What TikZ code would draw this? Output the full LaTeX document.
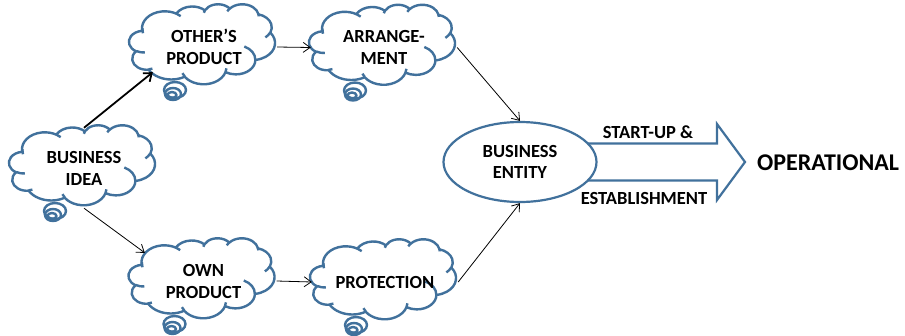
\documentclass[tikz,border=0pt]{standalone}
\usepackage{fontspec}
\setmainfont{Carlito}
\usetikzlibrary{arrows.meta,calc,backgrounds,shapes.geometric}
\definecolor{shapeblue}{HTML}{41719C}

% Cloud outline built from elliptical arcs given by visual angles;
% each visual angle is turned into the ellipse parameter TikZ expects.
\newcommand\cloudarc[5]{%
  \pgfmathsetmacro\cla{atan2(#2*sin(#4),#3*cos(#4))}%
  \pgfmathsetmacro\cls{\cla+360*round((#4-\cla)/360)}%
  \pgfmathsetmacro\clb{atan2(#2*sin(#4+#5),#3*cos(#4+#5))}%
  \pgfmathsetmacro\cle{\clb+360*round((#4+#5-\clb)/360)}%
  \expandafter\xdef\csname #1\endcsname{arc[start angle=\cls,end angle=\cle,x radius=#2,y radius=#3]}%
}
% outer puffs
\cloudarc{cloudA}{67.53}{91.90}{-190.4875}{123.7805}
\cloudarc{cloudB}{53.33}{72.67}{-144.1024}{89.9452}
\cloudarc{cloudC}{43.65}{59.45}{-145.8079}{99.7230}
\cloudarc{cloudD}{48.57}{65.95}{-130.9861}{117.2417}
\cloudarc{cloudE}{53.33}{72.73}{-78.7089}{109.0269}
\cloudarc{cloudF}{67.75}{92.20}{-46.2673}{130.2690}
\cloudarc{cloudG}{57.85}{78.67}{0.6250}{114.0333}
\cloudarc{cloudH}{67.52}{92.15}{22.4516}{115.1726}
\cloudarc{cloudI}{77.20}{105.43}{66.2426}{75.7110}
\cloudarc{cloudJ}{43.60}{59.18}{-274.9421}{146.7356}
\cloudarc{cloudK}{43.45}{59.45}{-246.8285}{152.5189}
% inner hooks
\cloudarc{hookA}{43.45}{59.45}{86.7420}{26.4295}
\cloudarc{hookB}{43.60}{59.18}{73.6105}{11.4475}
\cloudarc{hookC}{67.52}{92.15}{137.6242}{14.0811}
\cloudarc{hookD}{67.52}{92.15}{6.4533}{15.9984}
\cloudarc{hookE}{57.85}{78.67}{-70.2924}{70.9174}
\cloudarc{hookF}{53.33}{72.73}{30.3180}{27.7515}
\cloudarc{hookG}{48.57}{65.95}{-13.7443}{14.8502}
\cloudarc{hookH}{48.57}{65.95}{-149.1815}{18.1976}
\cloudarc{hookI}{43.65}{59.45}{-163.4943}{17.6864}
\cloudarc{hookJ}{67.53}{91.90}{-66.7070}{12.3194}
\cloudarc{hookK}{67.53}{91.90}{162.0347}{22.6881}

\tikzset{
  cloudline/.style={draw=shapeblue, line width=2.4pt, line join=round},
  shapeline/.style={draw=shapeblue, line width=2.2pt, line join=miter},
  cloudtext/.style={inner sep=0pt, minimum width=146pt, minimum height=80pt,
    align=center, font=\bfseries\fontsize{18.5}{22}\selectfont},
  lbl/.style={inner sep=0pt, font=\bfseries\fontsize{18.5}{22}\selectfont},
  conn/.style={draw=black, line width=0.8pt, -{Straight Barb[length=7pt,width=10pt]}},
  thickconn/.style={draw=black, line width=1.8pt, -{Straight Barb[length=7pt,width=11pt]}},
}

% thought cloud with its bubble tail; #1 = centre of the cloud box
\newcommand\thoughtcloud[1]{%
  \draw[cloudline, fill=white] ($#1+(-27,46)$) ellipse [x radius=11, y radius=8];
  \draw[cloudline] ($#1+(-29,50)$) ellipse [x radius=8, y radius=6];
  \draw[cloudline] ($#1+(-30,51)$) ellipse [x radius=4.5, y radius=3];
  \begin{scope}[shift={#1}, x=0.337963pt, y=-0.185185pt, shift={(-216,-216)}]
    \draw[cloudline, fill=white] (39.00,143.70) \cloudA \cloudB \cloudC \cloudD
      \cloudE \cloudF \cloudG \cloudH \cloudI \cloudJ \cloudK -- cycle;
    \draw[cloudline] (46.93,261.77) \hookA (69.28,348.99) \hookB
      (164.78,390.90) \hookC (288.27,347.51) \hookD (341.29,229.54) \hookE
      (417.98,153.54) \hookF (383.24,54.26) \hookG (290.78,39.52) \hookH
      (221.41,47.20) \hookI (140.00,51.92) \hookJ (41.27,157.89) \hookK;
  \end{scope}%
}

\begin{document}
\begin{tikzpicture}[x=1pt, y=-1pt]
  \begin{scope}[on background layer]
    \fill[white] (0,0) rectangle (905,335);
  \end{scope}
  \useasboundingbox (0,0) rectangle (905,335);

  % idea clouds
  \thoughtcloud{(82,165)}
  \node[cloudtext] (idea) at (84,168) {BUSINESS\\IDEA};
  \thoughtcloud{(202,44)}
  \node[cloudtext] (others) at (204,47) {OTHER'S\\PRODUCT};
  \thoughtcloud{(382,44.5)}
  \node[cloudtext] (arrange) at (384,47.5) {ARRANGE-\\MENT};
  \thoughtcloud{(201.5,278)}
  \node[cloudtext] (own) at (203.5,281) {OWN\\PRODUCT};
  \thoughtcloud{(383,279)}
  \node[cloudtext] (protection) at (385,282) {PROTECTION};

  % business entity
  \node[shapeline, fill=white, ellipse, minimum width=153pt, minimum height=80pt,
    inner sep=0pt, align=center, font=\bfseries\fontsize{18.5}{21}\selectfont]
    (entity) at (520,162) {BUSINESS\\ENTITY};

  % block arrow towards the operational stage
  \begin{scope}[on background layer]
    \draw[shapeline, fill=white] ($(entity.center)+(0,-18.5)$) -- (717,143.5)
      -- (717,124) -- (745,162) -- (717,200) -- (717,180.5)
      -- ($(entity.center)+(0,18.5)$) -- cycle;
  \end{scope}
  \node[lbl] (startup) at (648,132) {START-UP \&};
  \node[lbl] (establish) at (644,198) {ESTABLISHMENT};
  \node[inner sep=0pt, anchor=west, font=\bfseries\fontsize{24}{28}\selectfont]
    (oper) at (757,163) {OPERATIONAL};

  % connectors
  \draw[thickconn] (idea.north) -- ($(others.south west)+(22,-15)$);
  \draw[conn] (idea.south) -- ($(own.north west)+(14.5,12)$);
  \draw[conn] (others.east) -- (arrange.west);
  \draw[conn] (own.east) -- (protection.west);
  \draw[conn] (arrange.east) -- (entity.north);
  \draw[conn] (protection.east) -- (entity.south);
\end{tikzpicture}
\end{document}
